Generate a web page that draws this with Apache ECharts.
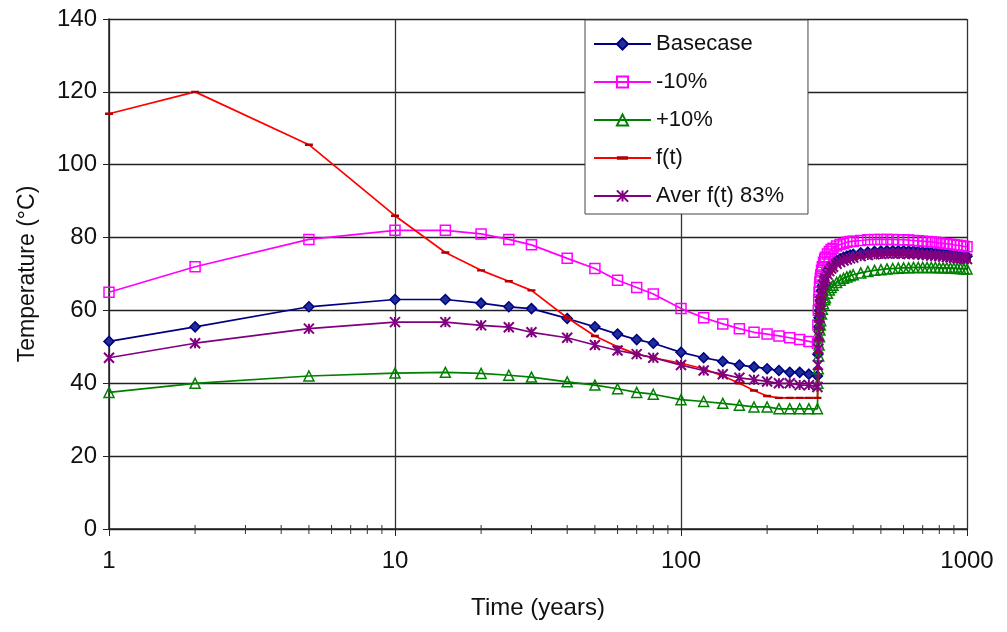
<!DOCTYPE html>
<html>
<head>
<meta charset="utf-8">
<script src="https://cdn.jsdelivr.net/npm/echarts@6/dist/echarts.min.js"></script>
<style>
html,body{margin:0;padding:0;background:#fff;}
#chart{width:1007px;height:632px;}
</style>
</head>
<body>
<div id="chart"></div>
<script>
// Time (years): cooling phase then recovery phase
const times = [1, 2, 5, 10, 15, 20, 25, 30, 40, 50, 60, 70, 80, 100, 120, 140, 160, 180, 200, 220, 240, 260, 280, 300,
  301, 302, 303, 304, 305, 306, 307, 308, 310, 312, 315, 318, 320, 325, 330, 335, 340,
  350, 360, 370, 380, 390, 400, 425, 450, 475, 500, 525, 550, 575, 600, 625, 650, 675, 700,
  725, 750, 775, 800, 825, 850, 875, 900, 925, 950, 975, 1000];

const basecase = [51.5, 55.5, 61, 63, 63, 62, 61, 60.5, 57.8, 55.5, 53.5, 52, 51, 48.5, 47, 46, 45, 44.5, 44, 43.5, 43, 43, 42.5, 42,
  48, 52, 55.5, 58, 60, 61.5, 62.8, 63.8, 65.5, 66.8, 68.2, 69.3, 69.9, 71, 71.8, 72.5, 73,
  73.7, 74.2, 74.6, 74.9, 75.2, 75.4, 75.8, 76, 76.2, 76.3, 76.4, 76.4, 76.4, 76.4, 76.3, 76.3, 76.2, 76.1,
  76, 75.9, 75.8, 75.7, 75.6, 75.5, 75.4, 75.3, 75.2, 75.1, 75, 74.9];

const minus10 = [65, 72, 79.5, 82, 82, 81, 79.5, 78, 74.3, 71.5, 68.3, 66.3, 64.5, 60.5, 58, 56.3, 55, 54, 53.5, 53, 52.5, 52, 51.5, 51,
  56, 60, 63, 65, 66.5, 67.8, 68.8, 69.7, 71, 72, 73.2, 74.1, 74.6, 75.5, 76.2, 76.7, 77.1,
  77.7, 78.1, 78.4, 78.7, 78.9, 79, 79.2, 79.4, 79.5, 79.5, 79.5, 79.5, 79.4, 79.4, 79.3, 79.2, 79.1, 79,
  78.9, 78.8, 78.7, 78.5, 78.4, 78.3, 78.2, 78, 77.9, 77.8, 77.6, 77.5];

const plus10 = [37.5, 40, 42, 42.8, 43, 42.7, 42.2, 41.7, 40.4, 39.5, 38.5, 37.5, 37, 35.5, 35, 34.5, 34, 33.5, 33.5, 33, 33, 33, 33, 33,
  40, 44, 47.5, 50.5, 52.8, 54.6, 56, 57.2, 59, 60.3, 61.8, 62.9, 63.5, 64.7, 65.6, 66.3, 66.9,
  67.7, 68.3, 68.8, 69.2, 69.5, 69.8, 70.3, 70.7, 71, 71.2, 71.4, 71.5, 71.6, 71.7, 71.7, 71.8, 71.8, 71.8,
  71.8, 71.8, 71.8, 71.7, 71.7, 71.7, 71.6, 71.6, 71.5, 71.5, 71.4, 71.4];

const ft = [114, 120, 105.5, 86, 75.9, 71, 68, 65.5, 58, 53, 50, 48, 47, 45.5, 44, 42, 40, 38, 36.5, 36, 36, 36, 36, 36,
  44, 48.5, 52, 55, 57.3, 59.2, 60.7, 61.9, 63.7, 65.1, 66.6, 67.7, 68.4, 69.6, 70.5, 71.2, 71.7,
  72.5, 73, 73.4, 73.7, 74, 74.2, 74.6, 74.9, 75.1, 75.2, 75.3, 75.3, 75.3, 75.3, 75.2, 75.2, 75.1, 75,
  74.9, 74.8, 74.7, 74.6, 74.5, 74.4, 74.3, 74.2, 74.1, 74, 73.9, 73.8];

const averFt = [47, 51, 55, 56.8, 56.8, 55.9, 55.4, 54, 52.5, 50.5, 49, 48, 47, 45, 43.5, 42.5, 41.5, 41, 40.5, 40, 40, 39.5, 39.5, 39,
  45, 49.5, 53, 56, 58, 59.8, 61.2, 62.3, 64, 65.4, 66.9, 68, 68.7, 69.9, 70.8, 71.5, 72,
  72.8, 73.3, 73.7, 74, 74.3, 74.5, 74.9, 75.2, 75.4, 75.5, 75.6, 75.6, 75.6, 75.6, 75.5, 75.5, 75.4, 75.3,
  75.2, 75.1, 75, 74.9, 74.8, 74.7, 74.6, 74.5, 74.4, 74.3, 74.2, 74.1];

const seriesNames = ['Basecase', '-10%', '+10%', 'f(t)', 'Aver f(t) 83%'];
const yTicks = { min: 0, max: 140, interval: 20 };
const xRange = { min: 1, max: 1000 };
const minorTickValues = [2,3,4,5,6,7,8,9,20,30,40,50,60,70,80,90,200,300,400,500,600,700,800,900];

const zip = (ys) => times.map((t, i) => [t, ys[i]]);
const starPath = 'path://M5,0L5,10M0,0L10,10M0,10L10,0';
const dashPath = 'path://M0,0L0.01,0M0,3.5L10,3.5L10,6.5L0,6.5ZM10,10L9.99,10';

const chart = echarts.init(document.getElementById('chart'), null, { renderer: 'canvas' });
const font = 'Liberation Sans, Arial, sans-serif';

function lineSeries(name, data, color, symbol, size, itemStyle, z) {
  return {
    name: name,
    type: 'line',
    data: zip(data),
    symbol: symbol,
    symbolSize: size,
    showAllSymbol: true,
    animation: false,
    lineStyle: { color: color, width: 1.7 },
    itemStyle: itemStyle,
    z: z
  };
}

chart.setOption({
  backgroundColor: '#fff',
  animation: false,
  grid: { left: 109, right: 40, top: 19, bottom: 103, containLabel: false },
  legend: {
    data: seriesNames,
    orient: 'vertical',
    left: 585,
    top: 20,
    padding: [13, 24, 7, 8],
    itemGap: 16,
    itemWidth: 57,
    itemHeight: 14,
    backgroundColor: '#fff',
    borderColor: '#444',
    borderWidth: 1,
    textStyle: { fontFamily: font, fontSize: 22, color: '#111' }
  },
  xAxis: {
    type: 'log',
    logBase: 10,
    min: xRange.min,
    max: xRange.max,
    name: 'Time (years)',
    nameLocation: 'middle',
    nameGap: 67,
    nameTextStyle: { fontFamily: font, fontSize: 24, color: '#111' },
    axisLine: { show: true, lineStyle: { color: '#222', width: 1.5 } },
    axisTick: { show: true, length: 7, lineStyle: { color: '#222' } },
    axisLabel: { fontFamily: font, fontSize: 24, color: '#111', margin: 20, formatter: v => String(v) },
    splitLine: { show: true, lineStyle: { color: '#333', width: 1.3 } }
  },
  yAxis: {
    type: 'value',
    min: yTicks.min,
    max: yTicks.max,
    interval: yTicks.interval,
    name: 'Temperature (°C)',
    nameLocation: 'middle',
    nameGap: 70,
    nameTextStyle: { fontFamily: font, fontSize: 23, color: '#111' },
    axisLine: { show: true, lineStyle: { color: '#222', width: 1.5 } },
    axisTick: { show: true, length: 6, lineStyle: { color: '#222' } },
    axisLabel: { fontFamily: font, fontSize: 24, color: '#111', margin: 12 },
    splitLine: { show: true, lineStyle: { color: '#222', width: 1.3 } }
  },
  series: [
    {
      type: 'custom',
      silent: true,
      clip: false,
      z: 2,
      data: minorTickValues.map(v => [v, yTicks.min]),
      renderItem: function (params, api) {
        const p = api.coord([api.value(0), api.value(1)]);
        return {
          type: 'line',
          shape: { x1: p[0], y1: p[1] - 4, x2: p[0], y2: p[1] + 5 },
          style: { stroke: '#333', lineWidth: 1 }
        };
      }
    },
    lineSeries(seriesNames[0], basecase, '#000080', 'diamond', 10,
      { color: '#1f2f9a', borderColor: '#000080', borderWidth: 1.5 }, 3),
    lineSeries(seriesNames[1], minus10, '#ff00ff', 'rect', 10,
      { color: 'rgba(255,255,255,0)', borderColor: '#ff00ff', borderWidth: 1.5 }, 4),
    lineSeries(seriesNames[2], plus10, '#008000', 'triangle', 10,
      { color: 'rgba(255,255,255,0)', borderColor: '#008000', borderWidth: 1.5 }, 5),
    lineSeries(seriesNames[3], ft, '#ff0000', dashPath, 8,
      { color: '#b00000', borderWidth: 0 }, 6),
    lineSeries(seriesNames[4], averFt, '#800080', starPath, 10,
      { color: 'rgba(0,0,0,0)', borderColor: '#800080', borderWidth: 2 }, 7)
  ]
});
</script>
</body>
</html>
